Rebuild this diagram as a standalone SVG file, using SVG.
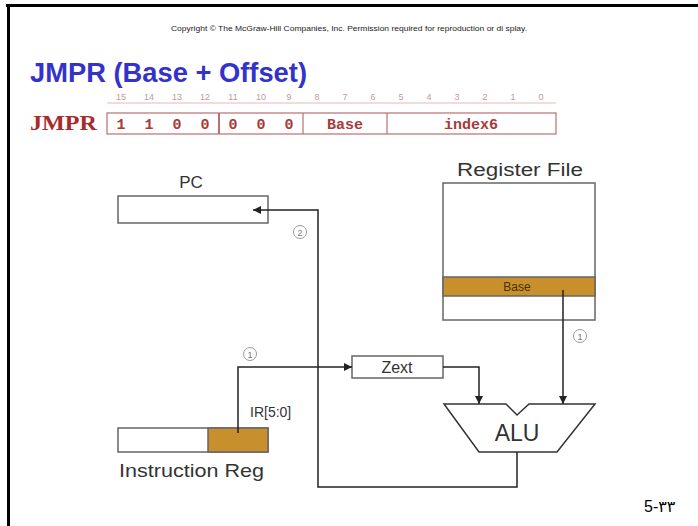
<svg xmlns="http://www.w3.org/2000/svg" width="698" height="526" viewBox="0 0 698 526">
<defs>
<marker id="ah" viewBox="0 0 10 10" refX="10" refY="5" markerWidth="9" markerHeight="8" markerUnits="userSpaceOnUse" orient="auto"><path d="M0,0 L10,5 L0,10 z" fill="#222"/></marker>
<style>
.sans{font-family:"Liberation Sans",Arial,sans-serif}
.box{fill:#fff;stroke:#666;stroke-width:1.5}
.gold{fill:#c8902c;stroke:#666;stroke-width:1.5}
.wire{fill:none;stroke:#222;stroke-width:1.5}
.num{fill:#fff;stroke:#999;stroke-width:1}
.numt{font-family:"Liberation Sans",Arial,sans-serif;font-size:9px;fill:#777;text-anchor:middle}
.bit{font-family:"Liberation Sans",Arial,sans-serif;font-size:9px;fill:#c09a9a;text-anchor:middle}
.fld{font-family:"Liberation Mono","Courier New",monospace;font-size:15px;font-weight:bold;fill:#a83a3a;text-anchor:middle}
.fbox{fill:#fff;stroke:#b87070;stroke-width:1.2}
.lbl{font-family:"Liberation Sans",Arial,sans-serif;fill:#333}
</style>
</defs>
<rect x="0" y="0" width="698" height="526" fill="#fff"/>
<rect x="6" y="4" width="692" height="3" fill="#000"/>
<rect x="7" y="4" width="3" height="522" fill="#000"/>
<text class="sans" x="349" y="31" font-size="8" fill="#222" text-anchor="middle" textLength="356" lengthAdjust="spacingAndGlyphs">Copyright © The McGraw-Hill Companies, Inc.  Permission required for reproduction or di splay.</text>
<text class="sans" x="30" y="82" font-size="27" font-weight="bold" fill="#3333cc" textLength="277" lengthAdjust="spacingAndGlyphs">JMPR (Base + Offset)</text>

<g id="format">
<text x="30" y="130" font-family="'Liberation Serif','Times New Roman',serif" font-size="22" font-weight="bold" fill="#aa2a2a" textLength="67" lengthAdjust="spacingAndGlyphs">JMPR</text>
<line x1="107" y1="103" x2="556" y2="103" stroke="#e8b8b8" stroke-width="1"/>
<g>
<text class="bit" x="121" y="100">15</text><text class="bit" x="149" y="100">14</text><text class="bit" x="177" y="100">13</text><text class="bit" x="205" y="100">12</text>
<text class="bit" x="233" y="100">11</text><text class="bit" x="261" y="100">10</text><text class="bit" x="289" y="100">9</text><text class="bit" x="317" y="100">8</text>
<text class="bit" x="345" y="100">7</text><text class="bit" x="373" y="100">6</text><text class="bit" x="401" y="100">5</text><text class="bit" x="429" y="100">4</text>
<text class="bit" x="457" y="100">3</text><text class="bit" x="485" y="100">2</text><text class="bit" x="513" y="100">1</text><text class="bit" x="541" y="100">0</text>
</g>
<rect class="fbox" x="107" y="113" width="449" height="21"/>
<line x1="219" y1="113" x2="219" y2="134" stroke="#b87070" stroke-width="2"/>
<line x1="303" y1="113" x2="303" y2="134" stroke="#b87070" stroke-width="1.2"/>
<line x1="387" y1="113" x2="387" y2="134" stroke="#b87070" stroke-width="1.2"/>
<text class="fld" x="121" y="129">1</text><text class="fld" x="149" y="129">1</text><text class="fld" x="177" y="129">0</text><text class="fld" x="205" y="129">0</text>
<text class="fld" x="233" y="129">0</text><text class="fld" x="261" y="129">0</text><text class="fld" x="289" y="129">0</text>
<text class="fld" x="345" y="129" font-size="14">Base</text>
<text class="fld" x="471" y="129" font-size="14">index6</text>
</g>

<g id="pc">
<text class="lbl" x="191" y="188" font-size="17" text-anchor="middle">PC</text>
<rect class="box" x="118" y="196" width="150" height="27"/>
</g>

<g id="regfile">
<text class="lbl" x="520" y="176" font-size="18" text-anchor="middle" textLength="126" lengthAdjust="spacingAndGlyphs">Register File</text>
<rect class="box" x="443" y="183" width="152" height="137"/>
<rect class="gold" x="443" y="277" width="152" height="19"/>
<text class="sans" x="517" y="291" font-size="12" fill="#4a3000" text-anchor="middle">Base</text>
</g>

<g id="zext">
<rect class="box" x="352" y="356" width="91" height="22"/>
<text class="lbl" x="397" y="373" font-size="16" text-anchor="middle">Zext</text>
</g>

<g id="alu">
<polygon points="444,404 506,404 517,415 529,404 595,404 557,452 479,452" fill="#fff" stroke="#333" stroke-width="1.5"/>
<text class="lbl" x="517" y="441" font-size="23" text-anchor="middle">ALU</text>
</g>

<g id="ir">
<rect class="box" x="118" y="428" width="150" height="24"/>
<rect class="gold" x="208" y="428" width="60" height="24"/>
<text class="lbl" x="250" y="417" font-size="14" fill="#555">IR[5:0]</text>
<text class="lbl" x="119" y="477" font-size="19" textLength="145" lengthAdjust="spacingAndGlyphs">Instruction Reg</text>
</g>

<g id="connectors">
<polyline class="wire" points="517,452 517,487 318,487 318,210 253,210" marker-end="url(#ah)"/>
<polyline class="wire" points="238,433 238,367 352,367" marker-end="url(#ah)"/>
<polyline class="wire" points="443,367 479,367 479,404" marker-end="url(#ah)"/>
<polyline class="wire" points="563,290 563,404" marker-end="url(#ah)"/>
<circle class="num" cx="300" cy="232" r="6.5"/><text class="numt" x="300" y="235.5">2</text>
<circle class="num" cx="250" cy="354" r="6.5"/><text class="numt" x="250" y="357.5">1</text>
<circle class="num" cx="580" cy="336" r="6.5"/><text class="numt" x="580" y="339.5">1</text>
</g>

<text x="644" y="512" font-family="'Liberation Sans','DejaVu Sans',sans-serif" font-size="16" fill="#000">5-٣٣</text>
</svg>
